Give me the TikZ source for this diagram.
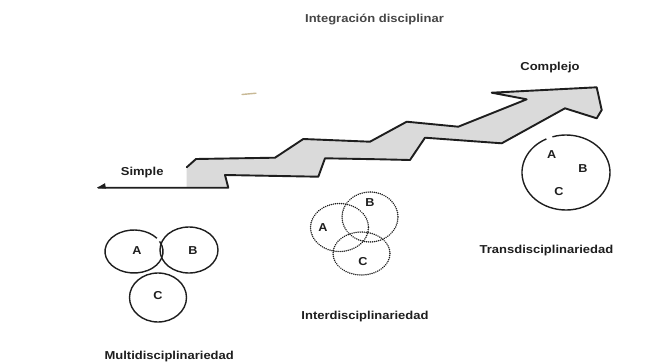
\documentclass[tikz,border=0pt]{standalone}
\usepackage{fontspec}
\usepackage{graphicx}
\setmainfont{Liberation Sans}
\definecolor{stairgray}{RGB}{218,218,218}
\definecolor{ink}{RGB}{30,30,30}
\definecolor{titlegray}{RGB}{70,70,70}
\definecolor{speck}{RGB}{200,185,150}
\newcommand{\lbl}[1]{\scalebox{1.13}[1]{\bfseries #1}}
\newcommand{\ltr}[1]{\scalebox{1.1}[1]{\bfseries #1}}
\tikzset{
  txt/.style={inner sep=0pt, anchor=base, text=ink, font=\fontsize{11.5}{13}\selectfont},
  letter/.style={inner sep=0pt, anchor=center, text=ink, font=\fontsize{11.5}{12}\selectfont},
  outline/.style={draw=ink, line width=1.9pt, line join=round, line cap=round},
  solidring/.style={draw=ink, line width=1.4pt},
  dotring/.style={draw=ink, line width=1.6pt, line cap=round, dash pattern=on 0.05pt off 2pt}
}
\begin{document}
\begin{tikzpicture}[x=1pt,y=-1pt]
\useasboundingbox (0,0) rectangle (665,362);
\fill[white] (0,0) rectangle (665,362);

% titles
\node[txt, text=titlegray] (title) at (374.5,22) {\lbl{Integración disciplinar}};
\node[txt] (complejo) at (550,70.7) {\lbl{Complejo}};
\node[txt] (simple) at (142.2,175) {\lbl{Simple}};

% stray speck
\draw[speck, line width=1.4pt, line cap=round] (242,94.5) -- (256,93.2);

% gray fill of the stair arrow
\fill[fill=stairgray] (186.7,167.3) -- (186.7,187) -- (228.3,187) -- (225,175) -- (318.3,176.7)
  -- (325,158.3) -- (380,159.3) -- (410,160) -- (425,137.7) -- (501.7,143.3)
  -- (565,108.3) -- (596.7,118.3) -- (601.7,110) -- (596.7,87.3) -- (491.7,92.7)
  -- (526.7,99.3) -- (458.3,126.7) -- (406.7,121.7) -- (370,141.7) -- (303.3,139)
  -- (275,157.7) -- (196,159) -- cycle;

% outline: lower edge and tip
\draw[outline] (98.3,187.7) -- (228.3,187.7) -- (225,175) -- (318.3,176.7)
  -- (325,158.3) -- (380,159.3) -- (410,160) -- (425,137.7) -- (501.7,143.3)
  -- (565,108.3) -- (596.7,118.3) -- (601.7,110) -- (596.7,87.3) -- (491.7,92.7)
  -- (526.7,99.3) -- (458.3,126.7) -- (406.7,121.7) -- (370,141.7) -- (303.3,139)
  -- (275,157.7) -- (196,159) -- (186.7,167.3);
\fill[ink] (97,187.8) -- (105,183.2) -- (106,188.6) -- cycle;

% Multidisciplinariedad
\draw[solidring] (134,251.5) ++(-28:29 and 21.5) arc[start angle=-28, end angle=322, x radius=29, y radius=21.5];
\draw[solidring] (189,250) ellipse[x radius=29, y radius=23];
\draw[solidring] (158,297.5) ellipse[x radius=28.5, y radius=24.5];
\node[letter] (mA) at (137,251) {\ltr{A}};
\node[letter] (mB) at (193,251) {\ltr{B}};
\node[letter] (mC) at (158,296) {\ltr{C}};
\node[txt] (multi) at (169.2,359) {\lbl{Multidisciplinariedad}};

% Interdisciplinariedad
\draw[dotring] (339.5,227.5) ellipse[x radius=29, y radius=24];
\draw[dotring] (370,217) ellipse[x radius=28, y radius=25];
\draw[dotring] (361.5,253.5) ellipse[x radius=28.5, y radius=21.5];
\node[letter] (iA) at (323,228) {\ltr{A}};
\node[letter] (iB) at (370,203) {\ltr{B}};
\node[letter] (iC) at (363,262) {\ltr{C}};
\node[txt] (inter) at (365,319.7) {\lbl{Interdisciplinariedad}};

% Transdisciplinariedad
\draw[solidring] (566,172.5) ++(252:44 and 37.5) arc[start angle=252, end angle=603.6, x radius=44, y radius=37.5];
\node[letter] (tA) at (551.7,155) {\ltr{A}};
\node[letter] (tB) at (583,169) {\ltr{B}};
\node[letter] (tC) at (559,191.7) {\ltr{C}};
\node[txt] (trans) at (546.5,253.3) {\lbl{Transdisciplinariedad}};
\end{tikzpicture}
\end{document}
